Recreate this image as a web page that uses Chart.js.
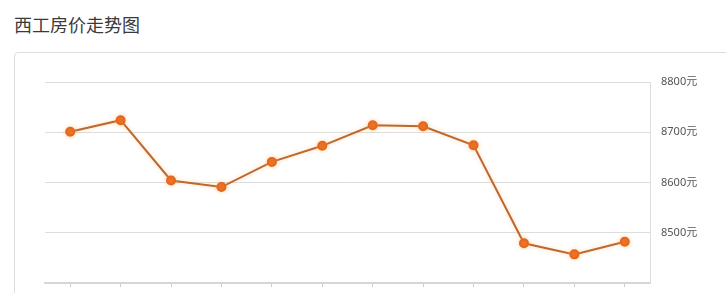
<!DOCTYPE html>
<html>
<head>
<meta charset="utf-8">
<script src="https://cdn.jsdelivr.net/npm/chart.js@4"></script>
<style>
    html, body { margin: 0; padding: 0; background: #fff; overflow: hidden; width: 726px; height: 293px; }
    h3 {
        position: absolute; left: 14px; top: 11px; margin: 0;
        font: normal 18px "Noto Sans CJK SC", "Noto Sans", sans-serif; color: #3a3a3a;
    }
    .box {
        position: absolute; left: 14px; top: 52px; width: 740px; height: 300px;
        border: 1px solid #ddd; border-radius: 4px;
    }
    .wrap { position: absolute; left: 15px; top: 53px; width: 711px; height: 260px; }
</style>
</head>
<body>
<h3>西工房价走势图</h3>
<div class="box"></div>
<div class="wrap"><canvas id="grafico"></canvas></div>
<script>
const months = ['1月', '2月', '3月', '4月', '5月', '6月', '7月', '8月', '9月', '10月', '11月', '12月'];
const prices = [8701, 8724, 8604, 8591, 8641, 8673, 8714, 8712, 8674, 8479, 8457, 8482];
const yTicks = [8400, 8500, 8600, 8700, 8800];

document.addEventListener('DOMContentLoaded', () => {
    const ctx = document.getElementById('grafico').getContext('2d');

    // faint orange glow around the line
    const glow = {
        id: 'glow',
        beforeDatasetDraw: (chart) => {
            chart.ctx.save();
            chart.ctx.shadowColor = 'rgba(255, 175, 90, 0.45)';
            chart.ctx.shadowBlur = 4;
        },
        afterDatasetDraw: (chart) => chart.ctx.restore()
    };

    new Chart(ctx, {
        type: 'line',
        data: {
            labels: months,
            datasets: [{
                data: prices,
                borderColor: '#bd6830',
                borderWidth: 2,
                backgroundColor: '#e5661c',
                pointBackgroundColor: '#e5661c',
                pointBorderColor: '#e5661c',
                pointRadius: 4,
                tension: 0,
                fill: false
            }]
        },
        options: {
            responsive: true,
            maintainAspectRatio: false,
            animation: false,
            layout: { padding: { left: 30, top: 29, right: 0, bottom: 0 } },
            plugins: { legend: { display: false }, tooltip: { enabled: false } },
            scales: {
                x: {
                    offset: true,
                    grid: { drawOnChartArea: false, tickLength: 4, color: '#ccc', offset: false },
                    border: { color: '#d6d6d6', width: 2 },
                    ticks: { padding: 14, color: '#555', font: { size: 11 } },
                    afterFit: (scale) => { scale.height = 30; }
                },
                y: {
                    position: 'right',
                    min: yTicks[0],
                    max: yTicks[yTicks.length - 1],
                    afterBuildTicks: (scale) => { scale.ticks = yTicks.map(v => ({ value: v })); },
                    grid: { color: '#ddd', drawTicks: false },
                    border: { color: '#ddd', width: 1 },
                    ticks: {
                        padding: 11,
                        color: '#555',
                        font: { family: '"Noto Sans", "Noto Sans CJK SC", sans-serif', size: 11 },
                        callback: (v) => v === yTicks[0] ? '' : v + '元'
                    },
                    afterFit: (scale) => { scale.width = 76; }
                }
            }
        },
        plugins: [glow]
    });
});
</script>
</body>
</html>
